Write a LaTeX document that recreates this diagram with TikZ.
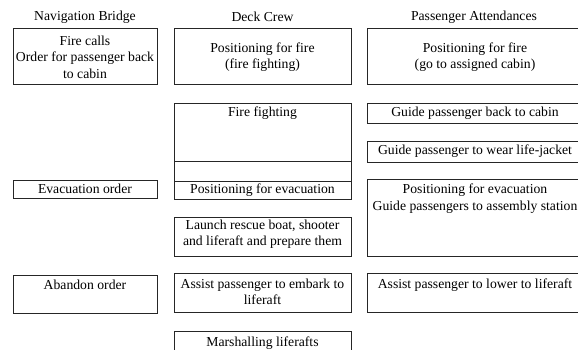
\documentclass[tikz,border=0pt]{standalone}
\usepackage{fontspec}
\setmainfont{Liberation Serif}
\begin{document}
\begin{tikzpicture}[x=1pt,y=-1pt,
  frame/.style={draw=black!85, line width=0.8pt},
  txt/.style={inner sep=0pt, align=center, font=\fontsize{13.7}{16.5}\selectfont}]
\useasboundingbox (0,0) rectangle (578,349);
\clip (0,0) rectangle (578,349);
% titles
\node[txt] (t1) at (85,17) {Navigation Bridge};
\node[txt] (t2) at (262.5,17) {Deck Crew};
\node[txt] (t3) at (474,17) {Passenger Attendances};
% column 1
\draw[frame] (13,28) rectangle (157,84);
\node[txt] (n1) at (85,57) {Fire calls\\Order for passenger back\\to cabin};
\draw[frame] (13,180) rectangle (157,198);
\node[txt] (n2) at (85,189) {Evacuation order};
\draw[frame] (13,275) rectangle (157,313);
\node[txt] (n3) at (85,285) {Abandon order};
% column 2
\draw[frame] (174,28) rectangle (351,84);
\node[txt] (d1) at (262.5,57) {Positioning for fire\\(fire fighting)};
\draw[frame] (174,103) rectangle (351,199);
\draw[frame] (174,161) -- (351,161);
\draw[frame] (174,181) -- (351,181);
\node[txt] (d2) at (262.5,113) {Fire fighting};
\node[txt] (d3) at (262.5,190) {Positioning for evacuation};
\draw[frame] (174,217) rectangle (351,256);
\node[txt] (d4) at (262.5,234) {Launch rescue boat, shooter\\and liferaft and prepare them};
\draw[frame] (174,273) rectangle (351,312);
\node[txt] (d5) at (262.5,292) {Assist passenger to embark to\\liferaft};
\draw[frame] (174,331) rectangle (351,360);
\node[txt] (d6) at (262.5,343) {Marshalling liferafts};
% column 3
\draw[frame] (367,28) rectangle (583,84);
\node[txt] (p1) at (475,57) {Positioning for fire\\(go to assigned cabin)};
\draw[frame] (367,103) rectangle (583,123);
\node[txt] (p2) at (475,113) {Guide passenger back to cabin};
\draw[frame] (367,141) rectangle (583,162);
\node[txt] (p3) at (475,151.5) {Guide passenger to wear life-jacket};
\draw[frame] (367,179) rectangle (583,256);
\node[txt] (p4) at (475,198.5) {Positioning for evacuation\\Guide passengers to assembly station};
\draw[frame] (367,273) rectangle (583,312);
\node[txt] (p5) at (475,285) {Assist passenger to lower to liferaft};
\end{tikzpicture}
\end{document}
